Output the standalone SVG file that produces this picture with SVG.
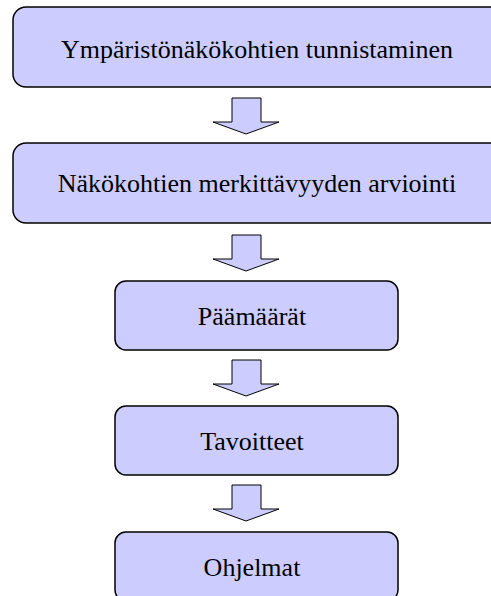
<svg xmlns="http://www.w3.org/2000/svg" width="491" height="596" viewBox="0 0 491 596">
  <style>
    .box { fill: #ccccff; stroke: #000; stroke-width: 1.5; }
    .arrow { fill: #ccccff; stroke: #000; stroke-width: 1; stroke-linejoin: miter; }
    .label { font-family: "Liberation Serif", "Times New Roman", serif; font-size: 26px; fill: #000; text-anchor: middle; }
  </style>
  <defs>
    <!-- block arrow pointing down, tip at origin -->
    <path id="down" d="M -14 -36 H 15 V -12 H 33 L 0 0 L -33 -12 H -14 Z"/>
  </defs>
  <rect width="491" height="596" fill="#fff"/>

  <g id="connectors">
    <use href="#down" class="arrow" x="246" y="134"/>
    <use href="#down" class="arrow" x="246" y="271"/>
    <use href="#down" class="arrow" x="246" y="396"/>
    <use href="#down" class="arrow" x="246" y="521"/>
  </g>

  <g id="tunnistaminen">
    <rect class="box" x="13" y="7" width="490" height="80" rx="13"/>
    <text class="label" x="257" y="58">Ympäristönäkökohtien tunnistaminen</text>
  </g>
  <g id="arviointi">
    <rect class="box" x="13" y="143" width="490" height="80" rx="13"/>
    <text class="label" x="257" y="192">Näkökohtien merkittävyyden arviointi</text>
  </g>
  <g id="paamaarat">
    <rect class="box" x="115" y="281" width="283" height="69" rx="11"/>
    <text class="label" x="252" y="325">Päämäärät</text>
  </g>
  <g id="tavoitteet">
    <rect class="box" x="115" y="406" width="283" height="69" rx="11"/>
    <text class="label" x="252" y="450">Tavoitteet</text>
  </g>
  <g id="ohjelmat">
    <rect class="box" x="115" y="532" width="283" height="69" rx="11"/>
    <text class="label" x="252" y="576">Ohjelmat</text>
  </g>
</svg>
